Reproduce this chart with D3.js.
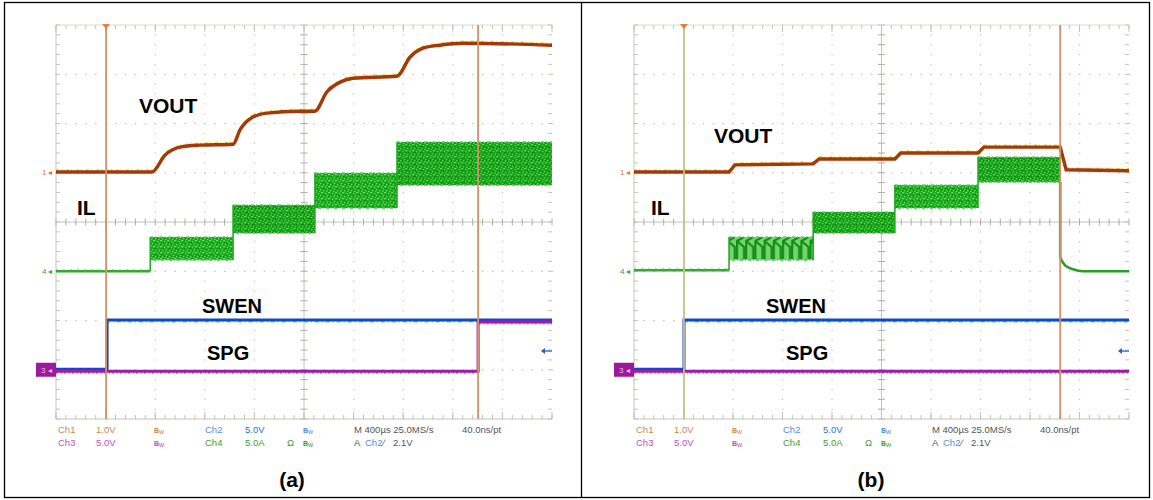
<!DOCTYPE html>
<html>
<head>
<meta charset="utf-8">
<script src="https://cdn.jsdelivr.net/npm/d3@7"></script>
<style>
  html, body { margin: 0; padding: 0; background: #fff; }
  svg { display: block; }
</style>
</head>
<body>
<svg id="chart" width="1153" height="500"></svg>
<script>
// ---------------- DATA (screen divisions: time 0..10, level -4..4) ----------------
const panels = ["(a)", "(b)"];
const traceLabels = ["VOUT", "IL", "SWEN", "SPG"];
const statusRow1 = ["Ch1", "1.0V", "Ch2", "5.0V", "M 400\u00b5s 25.0MS/s", "40.0ns/pt"];
const statusRow2 = ["Ch3", "5.0V", "Ch4", "5.0A", "A", "Ch2", "\u2215", "2.1V"];

// VOUT (Ch1) — panel a : staircase with RC-like rise
const voutA = [[0,1.015],[1.935,1.015],[2.20,1.36],[2.50,1.52],[2.90,1.56],[3.57,1.58],
  [3.71,1.87],[3.97,2.13],[4.25,2.21],[4.92,2.25],[5.22,2.25],[5.46,2.64],[5.73,2.84],
  [5.99,2.92],[6.875,2.96],[7.14,3.35],[7.40,3.53],[7.74,3.59],[8.21,3.63],[10,3.59]];
// VOUT — panel b : small steps, then drop
const voutB = [[0,1.015],[1.92,1.015],[2.04,1.16],[3.62,1.18],[3.74,1.28],[5.27,1.28],
  [5.39,1.40],[6.95,1.40],[7.07,1.52],[8.61,1.52],[8.73,1.06],[10,1.04]];

// IL (Ch4) baseline and bands [tStart, tEnd, top, bottom]
const ilBaseA = [[0,-1.0],[1.9,-1.0]];
const ilBandsA = [[1.9,3.57,-0.305,-0.77],[3.57,5.22,0.345,-0.223],[5.22,6.875,0.995,0.284],[6.875,10,1.624,0.751]];
const ilBaseB = [[0,-0.98],[1.92,-0.98]];
const ilBandsB = [[1.92,3.62,-0.305,-0.77],[3.62,5.27,0.203,-0.223],[5.27,6.95,0.751,0.284],[6.95,8.61,1.32,0.81]];
const ilTailB = [[8.61,0.81],[8.61,-0.71],[8.65,-0.80],[8.71,-0.88],[8.87,-0.96],[9.07,-1.0],[10,-1.0]];

// SWEN (Ch2) and SPG (Ch3)
const swenA = [[0,-2.99],[1.03,-2.99],[1.03,-1.99],[10,-1.99]];
const spgA  = [[0,-3.03],[8.51,-3.03],[8.51,-2.03],[10,-2.03]];
const swenB = [[0,-2.99],[1.01,-2.99],[1.01,-1.99],[10,-1.99]];
const spgB  = [[0,-3.03],[10,-3.03]];

// cursors (time, division)
const cursorsA = [1.01, 8.51];
const cursorsB = [1.01, 8.61];
// channel ground markers and trigger level
const markerLevels = [1.015, -1.0, -3.0];
const trigLevel = -2.62;

// ---------------- LAYOUT ----------------
const svg = d3.select("#chart");
const frame = [{x0:56, x1:552, cx:292, lx:0}, {x0:634, x1:1129, cx:871, lx:578}];
const yTop = 25, yBot = 419;

// outer frame
svg.append("rect").attr("x",4.5).attr("y",2.5).attr("width",1145).attr("height",495)
  .attr("fill","none").attr("stroke","#000").attr("stroke-width",1.3);
svg.append("line").attr("x1",581.5).attr("x2",581.5).attr("y1",2.5).attr("y2",497.5)
  .attr("stroke","#000").attr("stroke-width",1.3);

// textures
const defs = svg.append("defs");
function noisePattern(id, base, light, dark) {
  const p = defs.append("pattern").attr("id",id).attr("patternUnits","userSpaceOnUse")
    .attr("width",7).attr("height",6);
  p.append("rect").attr("width",7).attr("height",6).attr("fill",base);
  [[0,0],[3,1],[5,3],[1,4],[4,5],[6,0]].forEach(d=>p.append("rect").attr("x",d[0]).attr("y",d[1]).attr("width",1.3).attr("height",1.3).attr("fill",light));
  [[2,2],[6,4],[0,2],[3,4]].forEach(d=>p.append("rect").attr("x",d[0]).attr("y",d[1]).attr("width",1).attr("height",1).attr("fill",dark));
}
noisePattern("noiseG","#1ca81c","#5ee05e","#0e8a0e");
noisePattern("noiseG2","#18a018","#52d852","#0c840c");
const saw = defs.append("pattern").attr("id","saw").attr("patternUnits","userSpaceOnUse")
  .attr("width",9.2).attr("height",24).attr("y",237);
saw.append("rect").attr("width",9.2).attr("height",24).attr("fill","#74d474");
saw.append("path").attr("d","M1,22 L1,4 L8,0 M1,4 L8,10 L8,22").attr("fill","none").attr("stroke","#109010").attr("stroke-width",2.2);

const gridCol = "#c4c4b8";

function drawScope(P, idx) {
  const x = d3.scaleLinear().domain([0,10]).range([P.x0, P.x1]);
  const y = d3.scaleLinear().domain([-4,4]).range([yBot, yTop]);
  const g = svg.append("g");
  const minorX = d3.range(0,10.001,0.2), minorY = d3.range(-4,4.001,0.2);

  // dotted grid
  d3.range(1,10).filter(i=>i!==5).forEach(i=>{
    g.selectAll(null).data(minorY).join("rect")
      .attr("x",x(i)-0.5).attr("y",d=>y(d)-0.5).attr("width",1.2).attr("height",1.2).attr("fill",gridCol);
  });
  d3.range(-3,4).filter(j=>j!==0).forEach(j=>{
    g.selectAll(null).data(minorX).join("rect")
      .attr("x",d=>x(d)-0.6).attr("y",y(j)-0.5).attr("width",1.5).attr("height",1.2).attr("fill",gridCol);
  });
  // center cross with minor ticks
  g.append("line").attr("x1",x(0)).attr("x2",x(10)).attr("y1",y(0)).attr("y2",y(0)).attr("stroke",gridCol);
  g.append("line").attr("x1",x(5)).attr("x2",x(5)).attr("y1",y(-4)).attr("y2",y(4)).attr("stroke",gridCol);
  g.selectAll(null).data(minorX).join("line")
    .attr("x1",d=>x(d)).attr("x2",d=>x(d)).attr("y1",y(0)-3.5).attr("y2",y(0)+3.5).attr("stroke","#aeae9e");
  g.selectAll(null).data(minorY).join("line")
    .attr("y1",d=>y(d)).attr("y2",d=>y(d)).attr("x1",x(5)-3.5).attr("x2",x(5)+3.5).attr("stroke","#aeae9e");
  // borders
  g.append("line").attr("x1",x(0)).attr("x2",x(0)).attr("y1",y(-4)).attr("y2",y(4)).attr("stroke",gridCol);
  g.append("line").attr("x1",x(0)).attr("x2",x(10)).attr("y1",y(-4)).attr("y2",y(-4)).attr("stroke",gridCol);
  g.append("line").attr("x1",x(0)).attr("x2",x(10)).attr("y1",y(4)).attr("y2",y(4)).attr("stroke","#dcdcd0");
  g.selectAll(null).data(minorY).join("line")
    .attr("y1",d=>y(d)).attr("y2",d=>y(d)).attr("x1",x(0)).attr("x2",x(0)+4).attr("stroke",gridCol);
  g.selectAll(null).data(minorY).join("line")
    .attr("y1",d=>y(d)).attr("y2",d=>y(d)).attr("x1",x(10)-4).attr("x2",x(10)).attr("stroke",gridCol);
  g.selectAll(null).data(minorX).join("line")
    .attr("x1",d=>x(d)).attr("x2",d=>x(d)).attr("y1",y(4)).attr("y2",y(4)+4).attr("stroke",gridCol);
  g.selectAll(null).data(minorX).join("line")
    .attr("x1",d=>x(d)).attr("x2",d=>x(d)).attr("y1",y(-4)-4).attr("y2",y(-4)).attr("stroke",gridCol);
  g.selectAll(null).data(d3.range(0,11)).join("line")
    .attr("x1",d=>x(d)).attr("x2",d=>x(d)).attr("y1",y(-4)-7).attr("y2",y(-4)).attr("stroke",gridCol);
  g.selectAll(null).data(d3.range(0,11)).join("line")
    .attr("x1",d=>x(d)).attr("x2",d=>x(d)).attr("y1",y(4)).attr("y2",y(4)+7).attr("stroke",gridCol);

  const line = d3.line().x(d=>x(d[0])).y(d=>y(d[1]));
  const curve = d3.line().x(d=>x(d[0])).y(d=>y(d[1])).curve(d3.curveMonotoneX);

  const isA = idx === 0;
  const vout = isA ? voutA : voutB, ilBase = isA ? ilBaseA : ilBaseB, bands = isA ? ilBandsA : ilBandsB;
  const swen = isA ? swenA : swenB, spg = isA ? spgA : spgB, curs = isA ? cursorsA : cursorsB;

  // IL (Ch4)
  g.append("path").attr("d",line(ilBase)).attr("fill","none").attr("stroke","#2eaa2e").attr("stroke-width",2.6);
  g.append("path").attr("d",line(ilBase)).attr("fill","none").attr("stroke","#7ad87a").attr("stroke-width",1)
    .attr("stroke-dasharray","2 5").attr("transform","translate(0,-1.5)");
  bands.forEach((b,i)=>{
    const fill = (!isA && i===0) ? "url(#saw)" : (i%2 ? "url(#noiseG2)" : "url(#noiseG)");
    g.append("rect").attr("x",x(b[0])).attr("y",y(b[2])).attr("width",x(b[1])-x(b[0])).attr("height",y(b[3])-y(b[2]))
      .attr("fill",fill);
    g.append("line").attr("x1",x(b[0])).attr("x2",x(b[1])).attr("y1",y(b[2])).attr("y2",y(b[2]))
      .attr("stroke","#5cd65c").attr("stroke-width",1.5).attr("stroke-dasharray","3 2 1 3");
    g.append("line").attr("x1",x(b[0])).attr("x2",x(b[1])).attr("y1",y(b[3])).attr("y2",y(b[3]))
      .attr("stroke","#40c840").attr("stroke-width",1.5).attr("stroke-dasharray","1 2 3 2");
  });
  // vertical joins between levels
  const joins = [[ilBase[1][0], ilBase[1][1], bands[0][2]]].concat(bands.slice(1).map((b,i)=>[b[0], bands[i][3], b[2]]));
  joins.forEach(j=>g.append("line").attr("x1",x(j[0])).attr("x2",x(j[0])).attr("y1",y(j[1])).attr("y2",y(j[2]))
    .attr("stroke","#1ca81c").attr("stroke-width",1.5));
  if (!isA) {
    g.append("path").attr("d",curve(ilTailB)).attr("fill","none").attr("stroke","#22a022").attr("stroke-width",2.6);
  }

  // VOUT (Ch1)
  const vpath = isA ? curve(vout) : line(vout);
  g.append("path").attr("d",vpath).attr("fill","none").attr("stroke","#e8dc20").attr("stroke-width",2.2)
    .attr("stroke-dasharray","3 2 1 4").attr("transform","translate(0,-1.6)");
  g.append("path").attr("d",vpath).attr("fill","none").attr("stroke","#a43808").attr("stroke-width",3.4);

  // SWEN (Ch2)
  g.append("path").attr("d",line(swen)).attr("fill","none").attr("stroke","#38d8f0").attr("stroke-width",1.6)
    .attr("stroke-dasharray","4 3 1 3").attr("transform","translate(0,1.6)");
  g.append("path").attr("d",line(swen)).attr("fill","none").attr("stroke","#1048c8").attr("stroke-width",3);

  // SPG (Ch3)
  g.append("path").attr("d",line(spg)).attr("fill","none").attr("stroke","#d070d8").attr("stroke-width",2.2)
    .attr("stroke-dasharray","2 3 1 2").attr("transform","translate(0,1.4)");
  g.append("path").attr("d",line(spg)).attr("fill","none").attr("stroke","#a01ca8").attr("stroke-width",3);

  // cursors
  const cCols = isA ? ["#d4926a","#d4926a"] : ["#c8c088","#d4926a"];
  curs.forEach((c,i)=>g.append("line").attr("x1",x(c)).attr("x2",x(c)).attr("y1",y(4)).attr("y2",y(-4))
    .attr("stroke",cCols[i]).attr("stroke-width",1.8));
  // trigger position marker
  g.append("path").attr("d",`M${x(curs[0])-4},${y(4)-1} L${x(curs[0])+4},${y(4)-1} L${x(curs[0])},${y(4)+4} Z`).attr("fill","#f07a40");

  // channel markers
  const mk = g.append("g").attr("font-family","Liberation Sans, Arial, sans-serif").attr("font-size",8);
  mk.append("text").attr("x",x(0)-14).attr("y",y(markerLevels[0])+3).attr("fill","#d07a40").text("1");
  mk.append("text").attr("x",x(0)-8).attr("y",y(markerLevels[0])+3).attr("fill","#d07a40").text("\u25c2");
  mk.append("text").attr("x",x(0)-14).attr("y",y(markerLevels[1])+3).attr("fill","#3aa03a").text("4");
  mk.append("text").attr("x",x(0)-8).attr("y",y(markerLevels[1])+3).attr("fill","#3aa03a").text("\u25c2");
  mk.append("rect").attr("x",x(0)-20).attr("y",y(markerLevels[2])-7).attr("width",20).attr("height",14).attr("fill","#9c1a9c");
  mk.append("text").attr("x",x(0)-15).attr("y",y(markerLevels[2])+3).attr("fill","#e8c0e8").text("3");
  mk.append("text").attr("x",x(0)-8).attr("y",y(markerLevels[2])+3).attr("fill","#e8c0e8").text("\u25c2");
  // trigger level arrow
  g.append("line").attr("x1",x(10)-8).attr("x2",x(10)).attr("y1",y(trigLevel)).attr("y2",y(trigLevel)).attr("stroke","#2060d0").attr("stroke-width",1.3);
  g.append("path").attr("d",`M${x(10)-11},${y(trigLevel)} l4,-3 l0,6 Z`).attr("fill","#2060d0");

  // trace labels
  const tl = g.append("g").attr("font-family","Liberation Sans, Arial, sans-serif").attr("font-weight","bold").attr("fill","#000");
  const lp = isA ? [[139,113,21],[77,215,21],[202,313,20],[207,360,20]] : [[714,143,21],[651,215,21],[766,313,20],[786,360,20]];
  traceLabels.forEach((t,i)=>tl.append("text").attr("x",lp[i][0]).attr("y",lp[i][1]).attr("font-size",lp[i][2]).text(t));

  // status readout
  const st = g.append("g").attr("font-family","Liberation Sans, Arial, sans-serif").attr("font-size",9.5);
  const o = P.lx, r1 = 433, r2 = 446;
  const put = (tx, xx, yy, col) => st.append("text").attr("x",xx+o).attr("y",yy).attr("fill",col).text(tx);
  put(statusRow1[0],58,r1,"#d08850"); put(statusRow1[1],96,r1,"#d08850");
  put(statusRow2[0],58,r2,"#c050c8"); put(statusRow2[1],96,r2,"#c050c8");
  put(statusRow1[2],205,r1,"#5090e0"); put(statusRow1[3],245,r1,"#3070d8");
  put(statusRow2[2],205,r2,"#40a040"); put(statusRow2[3],245,r2,"#40a040");
  const bw = (xx,yy,col)=>{ st.append("text").attr("x",xx+o).attr("y",yy).attr("fill",col).attr("font-size",7).attr("font-weight","bold").text("B").append("tspan").attr("font-weight","normal").attr("dy",1).text("w"); };
  bw(154,r1,"#d08850"); bw(154,r2,"#c050c8"); bw(303,r1,"#5090e0"); bw(303,r2,"#40a040");
  put("\u03a9",287,r2,"#40a040");
  put(statusRow1[4],354,r1,"#555"); put(statusRow1[5],462,r1,"#555");
  put(statusRow2[4],354,r2,"#555"); put(statusRow2[5],365,r2,"#5090e0"); put(statusRow2[6],383,r2,"#555"); put(statusRow2[7],393,r2,"#555");

  // panel caption
  svg.append("text").attr("x",P.cx).attr("y",487).attr("text-anchor","middle")
    .attr("font-family","Liberation Sans, Arial, sans-serif").attr("font-weight","bold").attr("font-size",21).text(panels[idx]);
}
frame.forEach(drawScope);
</script>
</body>
</html>
